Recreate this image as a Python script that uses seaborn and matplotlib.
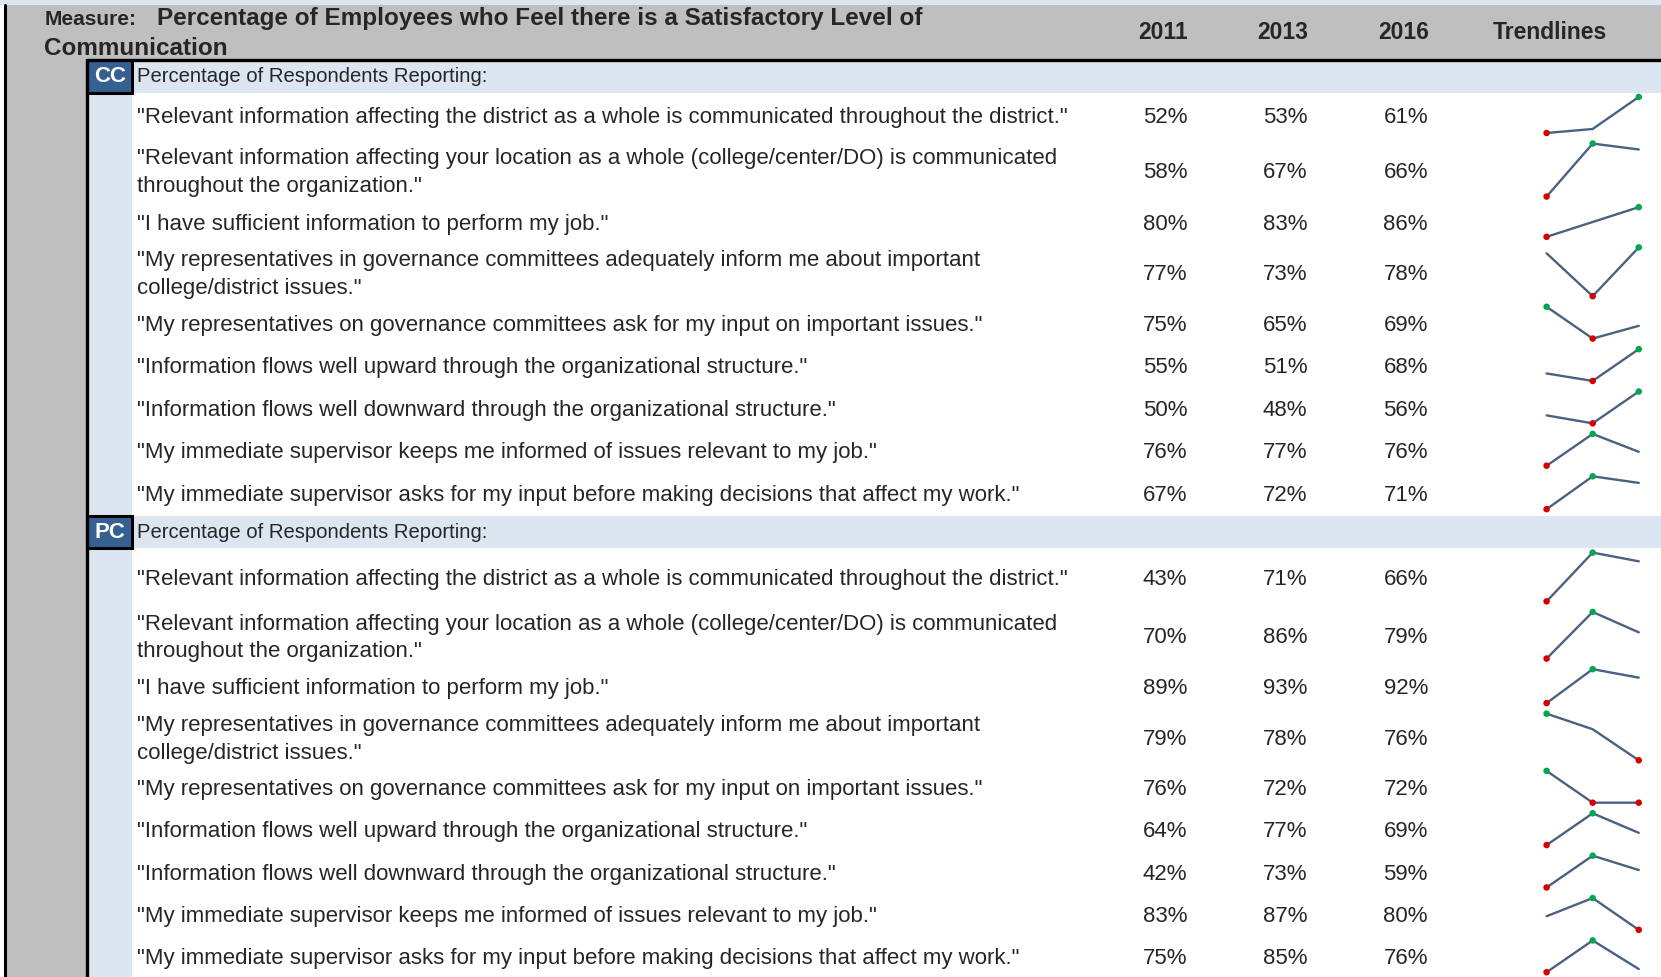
import numpy as np
import pandas as pd
import seaborn as sns
import matplotlib.pyplot as plt
from matplotlib.patches import Rectangle

sns.set_theme(style="white")
plt.rcParams['font.family'] = ['Liberation Sans', 'DejaVu Sans']

# data
years = ["2011", "2013", "2016"]
questions = [
    '"Relevant information affecting the district as a whole is communicated throughout the district."',
    '"Relevant information affecting your location as a whole (college/center/DO) is communicated\nthroughout the organization."',
    '"I have sufficient information to perform my job."',
    '"My representatives in governance committees adequately inform me about important\ncollege/district issues."',
    '"My representatives on governance committees ask for my input on important issues."',
    '"Information flows well upward through the organizational structure."',
    '"Information flows well downward through the organizational structure."',
    '"My immediate supervisor keeps me informed of issues relevant to my job."',
    '"My immediate supervisor asks for my input before making decisions that affect my work."',
]
cc_2011 = [52, 58, 80, 77.4, 75, 55, 50, 75.6, 67]
cc_2013 = [53, 67, 83, 73, 65, 51, 48, 77.2, 72]
cc_2016 = [61, 66, 86, 78, 69, 68, 56, 76.3, 71]
pc_2011 = [43, 70, 89, 79, 76, 64, 42, 83, 75]
pc_2013 = [71, 86, 93, 78, 72, 77, 73, 87, 85]
pc_2016 = [66, 79, 92, 76, 72, 69, 59, 80, 76]

# layout (in 1568 x 922 canvas units)
W, H = 1568, 922
cc_top, cc_rows = 57, [44, 60, 38, 56, 40, 40, 40, 40, 41]
pc_top, pc_rows = 487, [56, 54, 42, 54, 40, 40, 40, 40, 40]
sec_h = 30.5
val_x = [1100, 1213, 1327]
spark_x0, spark_x1 = 1460, 1547

LIGHT = "#DCE6F1"
GRAY = "#BFBFBF"
BADGE = "#376092"
LINE = "#4A6282"

fig = plt.figure(figsize=(16.61, 9.77), dpi=100)
ax = fig.add_axes([0, 0, 1, 1])
ax.set_xlim(0, W)
ax.set_ylim(H, 0)
ax.axis("off")

# background blocks
ax.add_patch(Rectangle((0, 0), W, 5, color=LIGHT, lw=0))
ax.add_patch(Rectangle((5, 5), W, 52, color=GRAY, lw=0))
ax.add_patch(Rectangle((5, 57), 77, H, color=GRAY, lw=0))
ax.add_patch(Rectangle((82, 57), 43, H, color=LIGHT, lw=0))
ax.plot([5, 5], [5, H], color="black", lw=2.2)
ax.plot([82, W], [57, 57], color="black", lw=2.4)
ax.plot([82, 82], [57, H], color="black", lw=2.4)

# header texts
ax.text(42, 18, "Measure:", fontsize=15, fontweight="bold", va="center", ha="left")
ax.text(148, 17, "Percentage of Employees who Feel there is a Satisfactory Level of",
        fontsize=17.5, fontweight="bold", va="center", ha="left")
ax.text(42, 46, "Communication", fontsize=17.5, fontweight="bold", va="center", ha="left")
for x, yr in zip(val_x, years):
    ax.text(x - 2, 31, yr, fontsize=16.5, fontweight="bold", va="center", ha="center")
ax.text(1463, 31, "Trendlines", fontsize=16.5, fontweight="bold", va="center", ha="center")


def draw_section(code, top, rows, v1, v2, v3):
    # section header band + badge
    ax.add_patch(Rectangle((125, top), W - 125, sec_h, color=LIGHT, lw=0))
    ax.add_patch(Rectangle((82, top), 43, sec_h, facecolor=BADGE, edgecolor="black", lw=2.2))
    ax.text(103.5, top + sec_h / 2, code, fontsize=16, fontweight="bold", color="white",
            va="center", ha="center")
    ax.text(129, top + sec_h / 2, "Percentage of Respondents Reporting:", fontsize=14.6,
            va="center", ha="left")
    y = top + sec_h
    for i, h in enumerate(rows):
        cy = y + h / 2
        ax.text(129, cy + 1.5, questions[i], fontsize=16, va="center", ha="left", linespacing=1.42)
        vals = [v1[i], v2[i], v3[i]]
        for x, v in zip(val_x, vals):
            ax.text(x, cy + 1.5, f"{v:.0f}%", fontsize=16, va="center", ha="center")
        # sparkline
        s_top, s_bot = y + 4, y + h - 6
        sax = fig.add_axes([spark_x0 / W, 1 - s_bot / H, (spark_x1 - spark_x0) / W, (s_bot - s_top) / H])
        df = pd.DataFrame({"year": [0, 1, 2], "value": vals})
        sns.lineplot(data=df, x="year", y="value", ax=sax, color=LINE, lw=1.7)
        lo = df[df["value"] == df["value"].min()]
        hi = df[df["value"] == df["value"].max()]
        sns.scatterplot(data=lo, x="year", y="value", ax=sax, color="#D40000", s=22,
                        edgecolor="none", clip_on=False, zorder=3)
        sns.scatterplot(data=hi, x="year", y="value", ax=sax, color="#00A650", s=22,
                        edgecolor="none", clip_on=False, zorder=3)
        sax.set_xlim(0, 2)
        sax.set_ylim(df["value"].min(), df["value"].max())
        sax.axis("off")
        for ln in sax.lines:
            ln.set_clip_on(False)
        y += h


draw_section("CC", cc_top, cc_rows, cc_2011, cc_2013, cc_2016)
draw_section("PC", pc_top, pc_rows, pc_2011, pc_2013, pc_2016)

fig.savefig("out.png", dpi=100)
